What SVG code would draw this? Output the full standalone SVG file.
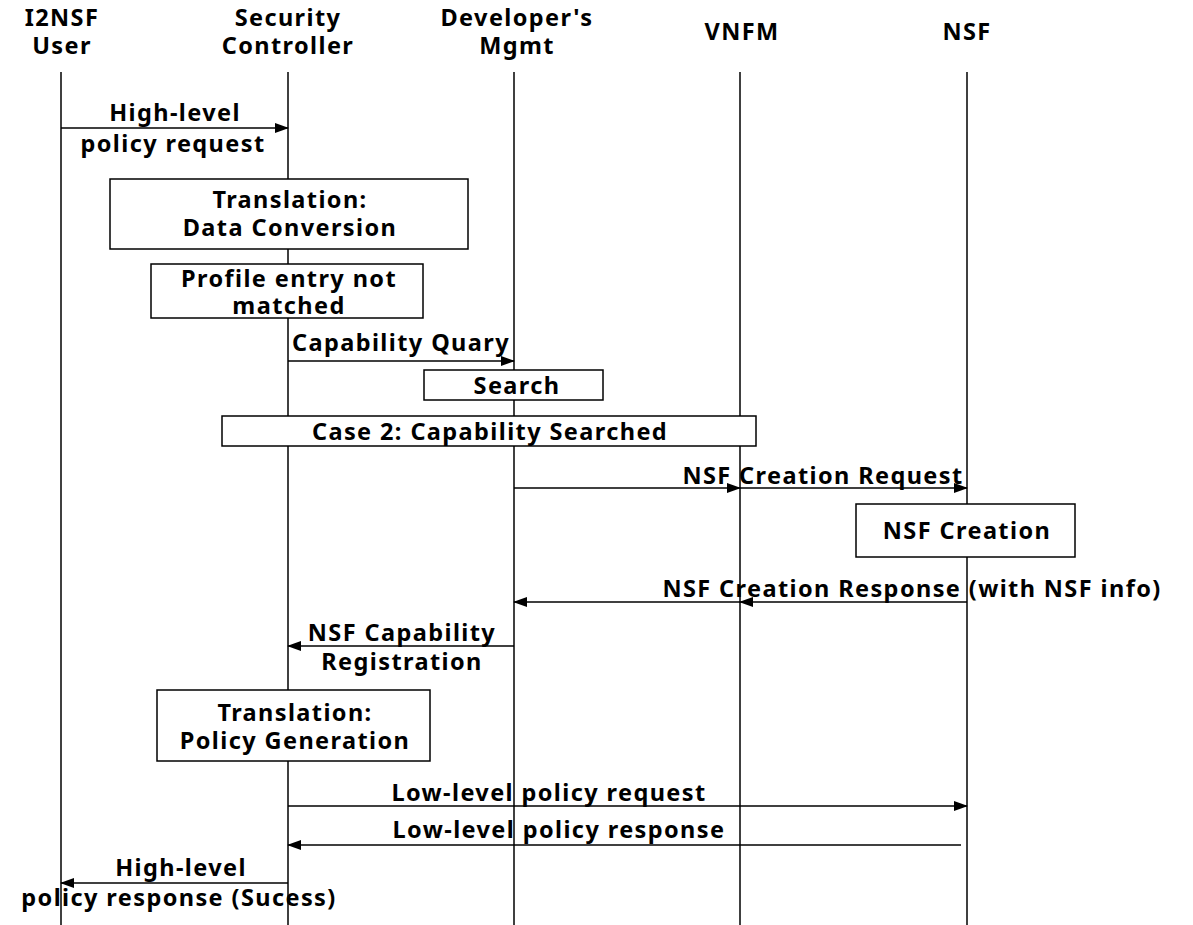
<svg xmlns="http://www.w3.org/2000/svg" width="1193" height="925" viewBox="0 0 1193 925">
<defs>
<marker id="ah" markerWidth="14" markerHeight="10" refX="13" refY="5" orient="auto" markerUnits="userSpaceOnUse">
<path d="M0,0 L14,5 L0,10 Z" fill="#000"/>
</marker>
<style>
text{font-family:"Noto Sans","Open Sans","DejaVu Sans",sans-serif;font-weight:bold;font-size:23.5px;letter-spacing:1.4px;fill:#000;text-anchor:middle;dominant-baseline:central}
.life{stroke:#000;stroke-width:1.5}
.box{fill:#fff;stroke:#000;stroke-width:1.5}
.msg{stroke:#000;stroke-width:1.5;fill:none;marker-end:url(#ah)}
</style>
</defs>
<rect width="1193" height="925" fill="#fff"/>
<g id="lifelines">
<line class="life" x1="61" y1="72" x2="61" y2="925"/>
<line class="life" x1="288" y1="72" x2="288" y2="925"/>
<line class="life" x1="514" y1="72" x2="514" y2="925"/>
<line class="life" x1="740" y1="72" x2="740" y2="925"/>
<line class="life" x1="967" y1="72" x2="967" y2="925"/>
</g>
<g id="hdr-user"><text x="62" y="17">I2NSF</text><text x="62" y="45">User</text></g>
<g id="hdr-sc"><text x="288" y="17">Security</text><text x="288" y="45">Controller</text></g>
<g id="hdr-dev"><text x="517" y="17">Developer's</text><text x="517" y="45">Mgmt</text></g>
<g id="hdr-vnfm"><text x="742" y="31">VNFM</text></g>
<g id="hdr-nsf"><text x="967" y="31">NSF</text></g>

<g id="connectors">
<line class="msg" x1="61" y1="128" x2="288" y2="128"/>
<line class="msg" x1="288" y1="361" x2="514" y2="361"/>
<line class="msg" x1="514" y1="488" x2="740" y2="488"/>
<line class="msg" x1="740" y1="488" x2="967" y2="488"/>
<line class="msg" x1="967" y1="602" x2="740" y2="602"/>
<line class="msg" x1="740" y1="602" x2="514" y2="602"/>
<line class="msg" x1="514" y1="646" x2="288" y2="646"/>
<line class="msg" x1="288" y1="806" x2="967" y2="806"/>
<line class="msg" x1="961" y1="845" x2="288" y2="845"/>
<line class="msg" x1="288" y1="883" x2="61" y2="883"/>
</g>

<g id="lbl-hl-req"><text x="175" y="112">High-level</text><text x="173" y="143">policy request</text></g>
<g id="box-dataconv"><rect class="box" x="110" y="179" width="358" height="70"/><text x="290" y="199">Translation:</text><text x="290" y="227">Data Conversion</text></g>
<g id="box-profile"><rect class="box" x="151" y="264" width="272" height="54"/><text x="289" y="278">Profile entry not</text><text x="289" y="305">matched</text></g>
<g id="lbl-capq"><text x="401" y="342">Capability Quary</text></g>
<g id="box-search"><rect class="box" x="424" y="370" width="179" height="30"/><text x="517" y="385">Search</text></g>
<g id="box-case2"><rect class="box" x="222" y="416" width="534" height="30"/><text x="490" y="431">Case 2: Capability Searched</text></g>
<g id="lbl-nsfcreq"><text x="823" y="475">NSF Creation Request</text></g>
<g id="box-nsfcreation"><rect class="box" x="856" y="504" width="219" height="53"/><text x="967" y="530">NSF Creation</text></g>
<g id="lbl-nsfcresp"><text x="912" y="588">NSF Creation Response (with NSF info)</text></g>
<g id="lbl-capreg"><text x="402" y="632">NSF Capability</text><text x="402" y="661">Registration</text></g>
<g id="box-polgen"><rect class="box" x="157" y="690" width="273" height="71"/><text x="295" y="712">Translation:</text><text x="295" y="740">Policy Generation</text></g>
<g id="lbl-llreq"><text x="549" y="792">Low-level policy request</text></g>
<g id="lbl-llresp"><text x="559" y="829">Low-level policy response</text></g>
<g id="lbl-hl-resp"><text x="181" y="867">High-level</text><text x="179" y="897">policy response (Sucess)</text></g>
</svg>
